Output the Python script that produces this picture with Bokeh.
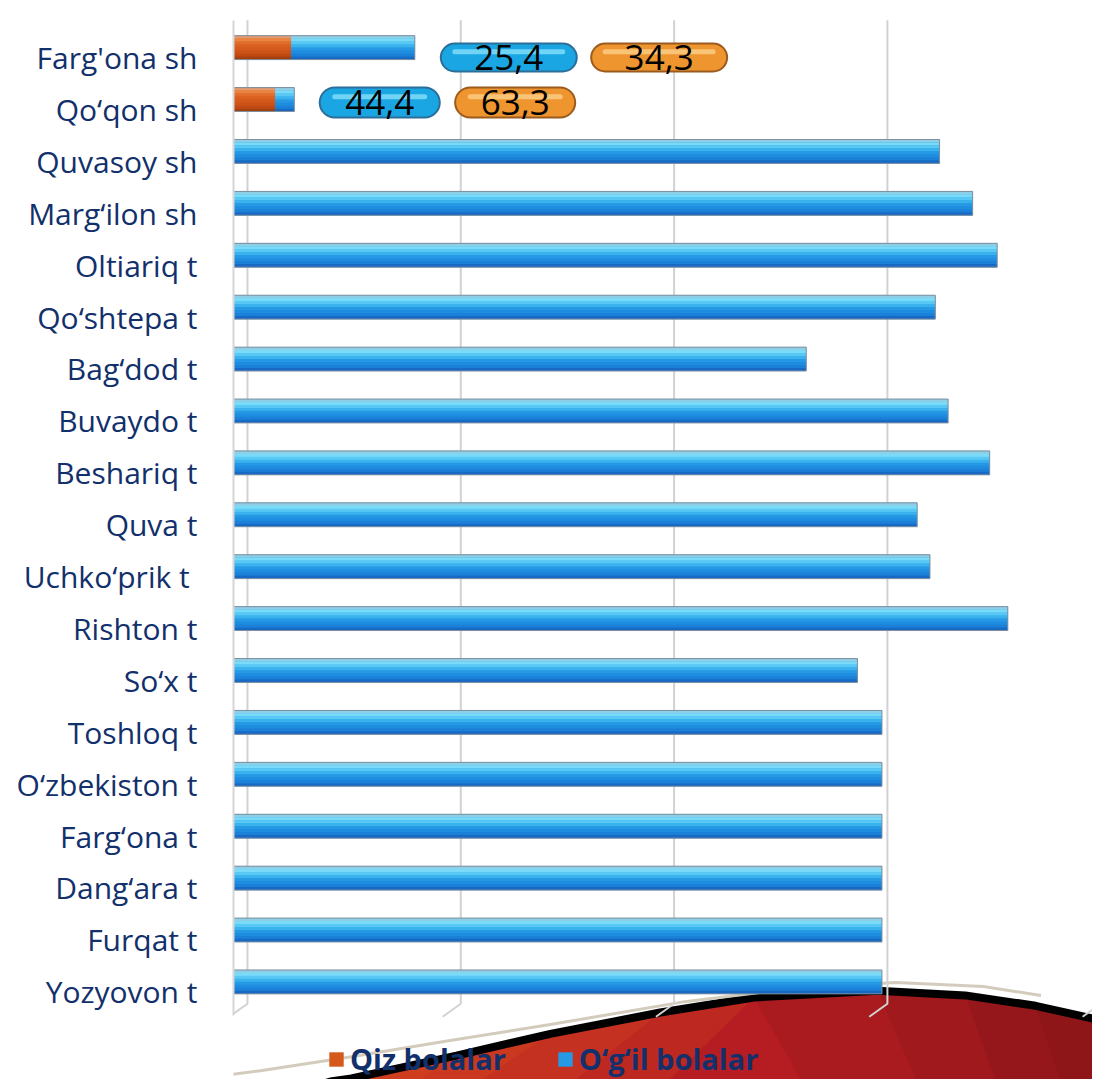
from bokeh.plotting import figure
from bokeh.models import Range1d, FixedTicker, ColumnDataSource, Legend, LegendItem
from bokeh.core.properties import value
from bokeh.embed import file_html
from bokeh.resources import INLINE

# ---------------- data ----------------
categories = ["Farg'ona sh", "Qo‘qon sh", "Quvasoy sh", "Marg‘ilon sh", "Oltiariq t",
              "Qo‘shtepa t", "Bag‘dod t", "Buvaydo t", "Beshariq t", "Quva t",
              "Uchko‘prik t\u00a0", "Rishton t", "So‘x t", "Toshloq t", "O‘zbekiston t",
              "Farg‘ona t", "Dang‘ara t", "Furqat t", "Yozyovon t"]
qiz = [5.4, 3.9, 0, 0, 0, 0, 0, 0, 0, 0, 0, 0, 0, 0, 0, 0, 0, 0, 0]
ogil = [11.6, 1.8, 66.2, 69.3, 71.6, 65.8, 53.7, 67.0, 70.9, 64.1, 65.3, 72.6,
        58.5, 60.8, 60.8, 60.8, 60.8, 60.8, 60.8]
label_blue = [25.4, 44.4]
label_orange = [34.3, 63.3]
xticks = [0, 20, 40, 60, 80]

# ---------------- layout / style constants ----------------
DX = -1.31     # 3D depth offset of bars (x units)
DY = -0.19     # 3D depth offset of bars (rows)
BAR_H = 0.46
NAVY = "#12306b"
BLUE_STRIPS = ["#8fcfe6", "#7adbf8", "#58c8f4", "#3ab2ed", "#2699e4",
               "#1f8ddf", "#1b80d7", "#1869c3"]
ORANGE_STRIPS = ["#e49a6e", "#e9833f", "#e06d2b", "#d96020", "#d4591b",
                 "#cc5217", "#bf4a12", "#a63f0e"]

rows = list(range(len(categories)))
ybar = [r + DY for r in rows]
left_o = [DX for _ in rows]
right_o = [DX + q for q in qiz]
left_b = right_o
right_b = [DX + q + o for q, o in zip(qiz, ogil)]

src = ColumnDataSource(dict(y=ybar, lo=left_o, ro=right_o, lb=left_b, rb=right_b))

p = figure(width=1092, height=1079,
           x_range=Range1d(-1.31, 79.23), y_range=Range1d(19.69, -0.867),
           output_backend="svg", toolbar_location=None,
           x_axis_location=None,
           min_border_left=233, min_border_right=0, min_border_top=12, min_border_bottom=0)
p.grid.visible = False
p.outline_line_color = None
p.background_fill_color = "white"
p.border_fill_color = "white"

# ---------------- decorative swoosh ----------------
arc_x = [4.97, 7.78, 9.75, 19.6, 28.4, 38.7, 47.5, 59.1, 67.3, 73.9, 80.0, 82.0]
arc_y = [19.9, 19.73, 19.67, 19.23, 18.81, 18.40, 18.11, 17.98, 18.07, 18.27, 18.55, 18.65]
p.patch(arc_x + [82.0, 4.97], arc_y + [20.8, 20.8], fill_color="#b51d22", line_color=None)
# soft colour shading of the swoosh (layered to mimic a gradient)
for end, bx in [(7, 34.0), (6, 24.0), (5, 14.0), (4, 8.0)]:
    p.patch(arc_x[:end] + [bx, 4.97], arc_y[:end] + [20.8, 20.8],
            fill_color="#e0561e", fill_alpha=0.2, line_color=None)
for start, bx in [(6, 55.0), (7, 65.0), (8, 72.0), (9, 78.0)]:
    p.patch(arc_x[start:] + [82.0, bx], arc_y[start:] + [20.8, 20.8],
            fill_color="#5e0f13", fill_alpha=0.13, line_color=None)
p.line(arc_x, arc_y, line_color="black", line_width=8)
beige_x = [-6.75, 1.22, 9.75, 19.0, 28.4, 41.0, 50.9, 60.8, 69.0, 74.4]
beige_y = [19.73, 19.52, 19.25, 18.94, 18.63, 18.19, 17.94, 17.82, 17.90, 18.07]
p.line(beige_x, beige_y, line_color="#d3ccbc", line_width=3)

# ---------------- grid (3D wall lines) ----------------
p.multi_line(xs=[[t, t, t - 1.7] for t in xticks],
             ys=[[-0.72, 18.23, 18.48] for _ in xticks],
             line_color="#d2d2d2", line_width=2)

# ---------------- bars ----------------
r_o = p.hbar(y="y", left="lo", right="ro", height=BAR_H, source=src,
             fill_color="#d4591b", line_color=None)
r_b = p.hbar(y="y", left="lb", right="rb", height=BAR_H, source=src,
             fill_color="#2699e4", line_color=None)

n = len(BLUE_STRIPS)
sh = BAR_H / n
for k in range(n):
    yk = [v - BAR_H / 2 + sh * (k + 0.5) for v in ybar]
    p.hbar(y=yk, left=left_o, right=right_o, height=sh + 0.004,
           fill_color=ORANGE_STRIPS[k], line_color=None)
    p.hbar(y=yk, left=left_b, right=right_b, height=sh + 0.004,
           fill_color=BLUE_STRIPS[k], line_color=None)
p.hbar(y="y", left="lo", right="rb", height=BAR_H, source=src,
       fill_color=None, line_color="#7d8fa0", line_width=1)

# ---------------- data-label pills ----------------
PILL_Y = [0.0, 0.867]
PILL_HALF = [5.06, 4.22]
PILL_W = [30, 32]
PILL_BLUE_X = [24.5, 12.4]
PILL_ORANGE_X = [38.6, 25.1]

def fmt(v):
    return f"{v:.1f}".replace(".", ",")

for xs, vals, edge, fill, hi in [
        (PILL_BLUE_X, label_blue, "#2b6e99", "#1aa6e2", "#86e0fb"),
        (PILL_ORANGE_X, label_orange, "#9c5a1c", "#ee9530", "#fdd08a")]:
    ps = ColumnDataSource(dict(
        x0=[x - h for x, h in zip(xs, PILL_HALF)],
        x1=[x + h for x, h in zip(xs, PILL_HALF)],
        y=PILL_Y, yhi=[y - 0.11 for y in PILL_Y],
        w=PILL_W, wi=[w - 4 for w in PILL_W],
        xc=xs, txt=[fmt(v) for v in vals]))
    p.segment(x0="x0", y0="y", x1="x1", y1="y", line_width="w", line_cap="round",
              line_color=edge, source=ps)
    p.segment(x0="x0", y0="y", x1="x1", y1="y", line_width="wi", line_cap="round",
              line_color=fill, source=ps)
    p.segment(x0="x0", y0="yhi", x1="x1", y1="yhi", line_width=5, line_cap="round",
              line_color=hi, line_alpha=0.8, source=ps)
    p.text(x="xc", y="y", text="txt", source=ps, text_align="center",
           text_baseline="middle", text_font=value("Open Sans"),
           text_font_size="35px", text_color="black")

# ---------------- axis ----------------
ax = p.yaxis[0]
ax.ticker = FixedTicker(ticks=rows)
ax.major_label_overrides = {r: c for r, c in zip(rows, categories)}
ax.major_label_text_font = "Open Sans"
ax.major_label_text_font_size = "30px"
ax.major_label_text_color = NAVY
ax.major_tick_line_color = None
ax.minor_tick_line_color = None
ax.major_label_standoff = 30
ax.axis_line_color = "#d6d6d6"
ax.axis_line_width = 2
ax.bounds = (-0.72, 18.46)

# ---------------- legend ----------------
legend = Legend(items=[LegendItem(label="Qiz bolalar", renderers=[r_o]),
                       LegendItem(label="O‘g‘il bolalar", renderers=[r_b])],
                location=(94, 1), orientation="horizontal",
                label_text_font="Open Sans", label_text_font_size="29px",
                label_text_font_style="bold", label_text_color=NAVY,
                glyph_width=18, glyph_height=18, label_standoff=5, spacing=50,
                padding=0, margin=0, border_line_color=None,
                background_fill_alpha=0)
p.add_layout(legend)

open("out.html", "w").write(file_html(p, INLINE))
